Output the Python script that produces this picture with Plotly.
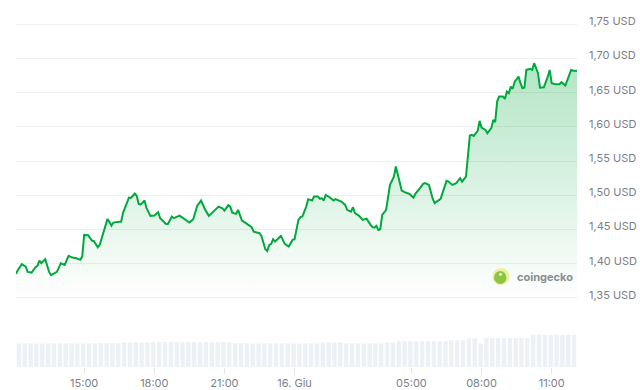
import plotly.graph_objects as go
import pandas as pd

# ---------------- data ----------------
PRICE_TIMES = [
    "12:05","12:10","12:20","12:30","12:35","12:45","12:55","13:00","13:05","13:10",
    "13:20","13:25","13:30","13:35","13:45","13:50","14:00","14:10","14:20","14:30",
    "14:40","14:50","14:55","15:00","15:10","15:20","15:25","15:35","15:40","15:50",
    "16:00","16:10","16:15","16:35","16:40","16:55","17:00","17:10","17:15","17:20",
    "17:25","17:35","17:40","17:50","18:00","18:10","18:15","18:30","18:35","18:45",
    "18:50","19:05","19:15","19:20","19:30","19:40","19:50","20:00","20:10","20:20",
    "20:35","20:45","20:55","21:00","21:10","21:15","21:20","21:30","21:35","21:45",
    "21:55","22:10","22:15","22:30","22:35","22:45","22:50","22:55","23:00","23:05",
    "23:10","23:25","23:35","23:45","23:55","00:00","00:10","00:15","00:20","00:30",
    "00:35","00:45","00:50","01:00","01:05","01:10","01:15","01:20","01:30","01:40",
    "01:45","02:00","02:10","02:15","02:25","02:30","02:35","02:45","02:55","03:05",
    "03:15","03:20","03:25","03:30","03:35","03:40","03:45","03:55","04:05","04:10",
    "04:15","04:20","04:30","04:35","04:45","04:55","05:05","05:10","05:20","05:30",
    "05:35","05:45","05:55","06:00","06:05","06:15","06:30","06:35","06:45","06:55",
    "07:05","07:10","07:20","07:30","07:35","07:40","07:50","07:55","08:00","08:10",
    "08:15","08:25","08:30","08:35","08:40","08:45","08:55","09:00","09:05","09:10",
    "09:15","09:20","09:25","09:35","09:40","09:45","09:50","09:55","10:05","10:10",
    "10:15","10:25","10:30","10:40","10:50","10:55","11:00","11:10","11:20","11:25",
    "11:35","11:45","11:50","11:55","12:05",
]

PRICES = [
    1.3851,1.3909,1.3993,1.3958,1.3880,1.3870,1.3949,1.3968,1.4045,1.4007,
    1.4066,1.3958,1.3880,1.3832,1.3870,1.3880,1.4007,1.3982,1.4114,1.4089,
    1.4080,1.4056,1.4104,1.4421,1.4417,1.4338,1.4329,1.4241,1.4275,1.4480,
    1.4655,1.4557,1.4601,1.4616,1.4747,1.4966,1.4962,1.5025,1.4991,1.4874,
    1.4864,1.4923,1.4811,1.4699,1.4703,1.4753,1.4665,1.4582,1.4582,1.4689,
    1.4665,1.4703,1.4665,1.4651,1.4601,1.4651,1.4845,1.4923,1.4797,1.4699,
    1.4787,1.4835,1.4811,1.4776,1.4855,1.4835,1.4747,1.4728,1.4787,1.4630,
    1.4592,1.4534,1.4469,1.4446,1.4406,1.4212,1.4187,1.4275,1.4289,1.4358,
    1.4323,1.4406,1.4289,1.4250,1.4348,1.4358,1.4640,1.4680,1.4689,1.4835,
    1.4943,1.4923,1.4981,1.4981,1.4947,1.4958,1.4923,1.5006,1.4972,1.4923,
    1.4943,1.4908,1.4860,1.4787,1.4762,1.4826,1.4738,1.4703,1.4640,1.4659,
    1.4567,1.4534,1.4528,1.4553,1.4494,1.4504,1.4713,1.4787,1.5152,1.5211,
    1.5273,1.5420,1.5200,1.5069,1.5040,1.5020,1.4966,1.5020,1.5089,1.5167,
    1.5177,1.5152,1.4943,1.4885,1.4908,1.4947,1.5211,1.5200,1.5152,1.5177,
    1.5250,1.5200,1.5273,1.5873,1.5883,1.5868,1.5942,1.6088,1.5990,1.5956,
    1.5908,1.5981,1.6102,1.6069,1.6370,1.6443,1.6443,1.6409,1.6516,1.6493,
    1.6589,1.6556,1.6662,1.6735,1.6639,1.6566,1.6575,1.6833,1.6848,1.6833,
    1.6931,1.6785,1.6575,1.6580,1.6735,1.6833,1.6639,1.6624,1.6624,1.6653,
    1.6604,1.6760,1.6833,1.6819,1.6819,
]

# 24h volume (millions USD), one value per 15-minute bar
VOLUMES = [
    50.0,50.0,50.0,50.0,50.0,50.0,50.0,50.0,50.0,50.0,50.0,50.0,50.0,50.0,
    50.5,50.5,50.5,50.5,
    52.0,52.0,52.0,52.0,52.0,
    53.3,53.3,53.3,53.3,53.3,53.3,
    52.6,52.6,52.6,52.6,52.6,52.6,52.6,52.6,
    50.5,50.5,
    50.0,50.0,50.0,50.0,50.0,50.0,50.0,50.0,50.0,50.0,50.0,50.0,50.0,
    52.0,52.0,52.0,52.0,
    50.0,50.0,50.0,50.0,50.0,50.0,50.0,
    52.0,52.0,
    54.8,54.8,54.8,54.8,54.8,54.8,54.8,54.8,54.8,
    56.9,56.9,56.9,
    60.5,60.5,
    50.0,
    61.8,61.8,61.8,61.8,61.8,61.8,61.8,61.8,
    69.0,69.0,69.0,69.0,69.0,69.0,69.0,69.0,
]

START = "2024-06-15 12:05"
END = "2024-06-16 12:05"
TICK_TIMES = ["2024-06-15 15:00", "2024-06-15 18:00", "2024-06-15 21:00",
              "2024-06-16 00:00", "2024-06-16 05:00", "2024-06-16 08:00",
              "2024-06-16 11:00"]
TICK_TEXT = ["15:00", "18:00", "21:00", "16. Giu", "05:00", "08:00", "11:00"]
PRICE_TICKS = [1.35, 1.40, 1.45, 1.50, 1.55, 1.60, 1.65, 1.70, 1.75]
PRICE_TICK_TEXT = ["1,35 USD", "1,40 USD", "1,45 USD", "1,50 USD", "1,55 USD",
                   "1,60 USD", "1,65 USD", "1,70 USD", "1,75 USD"]

# ---------------- build datetimes ----------------
stamps = []
day = 15
prev = None
for t in PRICE_TIMES:
    if prev is not None and t < prev:
        day = 16
    stamps.append(pd.Timestamp(f"2024-06-{day:02d} {t}"))
    prev = t

vol_times = pd.date_range(pd.Timestamp(START) + pd.Timedelta(minutes=7.5),
                          periods=len(VOLUMES), freq="15min")

GREEN = "#00a83e"
GRAY_TXT = "#7b8089"

fig = go.Figure()

fig.add_trace(go.Bar(
    x=vol_times, y=VOLUMES, yaxis="y2",
    marker=dict(color="#edf0f4", line=dict(width=0)),
    hoverinfo="skip",
))

fig.add_trace(go.Scatter(
    x=stamps, y=PRICES, mode="lines",
    line=dict(color=GREEN, width=2),
    fill="tozeroy",
    fillgradient=dict(
        type="vertical",
        colorscale=[[0, "rgba(0,168,62,0)"], [1, "rgba(0,168,62,0.30)"]],
        start=1.345, stop=max(PRICES),
    ),
    hoverinfo="skip",
))

# coingecko watermark
LOGO_X = (501 - 16) / 561
LOGO_Y = (367 - 276.5) / 367
shapes = [
    dict(type="circle", xref="paper", yref="paper", xsizemode="pixel", ysizemode="pixel",
         xanchor=LOGO_X, yanchor=LOGO_Y, x0=-8.5, x1=8.5, y0=-8.5, y1=8.5,
         fillcolor="#eef0a0", line=dict(width=0), layer="above"),
    dict(type="circle", xref="paper", yref="paper", xsizemode="pixel", ysizemode="pixel",
         xanchor=LOGO_X, yanchor=LOGO_Y, x0=-7, x1=5.5, y0=-7.5, y1=5.5,
         fillcolor="#8cc640", line=dict(width=0), layer="above"),
    dict(type="circle", xref="paper", yref="paper", xsizemode="pixel", ysizemode="pixel",
         xanchor=LOGO_X, yanchor=LOGO_Y, x0=-1.8, x1=0.8, y0=0.8, y1=3.4,
         fillcolor="#ffffff", line=dict(width=0), layer="above"),
]

fig.update_layout(
    width=640, height=390,
    margin=dict(l=16, r=63, t=0, b=23),
    paper_bgcolor="white", plot_bgcolor="white",
    showlegend=False, bargap=0.25,
    font=dict(family="Inter, Open Sans, sans-serif", size=11, color=GRAY_TXT),
    xaxis=dict(
        type="date", range=[START, END], anchor="y2",
        tickvals=TICK_TIMES, ticktext=TICK_TEXT,
        showgrid=False, zeroline=False, showline=False,
        ticks="outside", ticklen=6, tickcolor="#e3e5e8",
        tickfont=dict(size=11, color=GRAY_TXT),
    ),
    yaxis=dict(
        domain=[0.179, 1], range=[1.345, 1.7855], side="right", anchor="x",
        tickvals=PRICE_TICKS, ticktext=PRICE_TICK_TEXT,
        showgrid=True, gridcolor="#efefef", gridwidth=1,
        zeroline=False, showline=False, ticks="",
        ticklabelstandoff=11, ticklabelshift=-3,
        tickfont=dict(size=11, color=GRAY_TXT),
    ),
    yaxis2=dict(
        domain=[0, 0.179], range=[0, 140], visible=False,
        anchor="x", showgrid=False, zeroline=False,
    ),
    shapes=shapes,
    annotations=[dict(
        text="<b>coingecko</b>", xref="paper", yref="paper",
        x=(515 - 16) / 561, y=LOGO_Y, xanchor="left", yanchor="middle",
        showarrow=False, font=dict(size=11, color="#8a8d91",
                                   family="Inter, Open Sans, sans-serif"),
    )],
)

fig.write_html("out.html")
